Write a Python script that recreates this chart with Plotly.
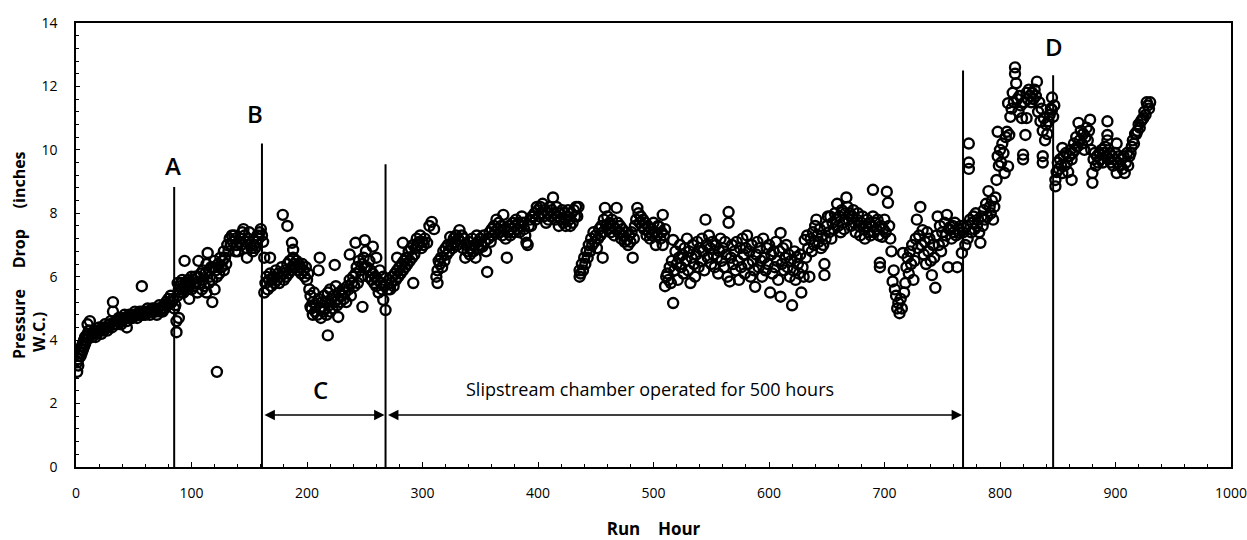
import plotly.graph_objects as go

# ---------------- data (run hour, pressure drop) ----------------
seg_start = [(1,3.0),(1,3.3),(2,3.4),(2,3.2),(3,3.5),(3,3.6),(4,3.7),(4,3.5),(5,3.8),(5,3.6),(6,3.9),(6,3.7),
 (7,4.0),(7,3.8),(8,4.1),(8,3.9),(9,4.1),(9,4.0),(10,4.2),(10,4.5),(11,4.3),(11,4.1),(12,4.6),(12,4.3),(13,4.2),
 (14,4.1),(15,4.2),(16,4.3),(17,4.1),(18,4.2),(19,4.3),(20,4.4),(21,4.3),(22,4.2),(23,4.4),(24,4.3),(25,4.5),
 (26,4.4),(27,4.3),(28,4.4),(29,4.5),(30,4.6),(31,4.4),(32,5.2),(32,4.9),(33,4.5),(34,4.6),(35,4.5),(36,4.6),
 (37,4.7),(38,4.6),(39,4.5),(40,4.6),(41,4.7),(42,4.8),(43,4.7),(44,4.6),(44,4.4),(45,4.7),(46,4.8),(47,4.7),
 (48,4.8),(49,4.7),(50,4.8),(51,4.9),(52,4.8),(53,4.7),(54,4.8),(55,4.9),(56,4.8),(57,4.9),(57,5.7),(58,4.8),
 (59,4.9),(60,4.8),(61,4.9),(62,5.0),(63,4.9),(64,4.8),(65,4.9),(66,5.0),(67,4.9),(68,5.0),(69,4.9),(70,4.8),
 (71,5.0),(72,5.1),(73,4.9),(74,5.0),(75,4.9),(76,5.1),(77,5.0),(78,5.2),(79,5.1),(80,5.3),(81,5.2),(82,5.4),
 (83,5.2),(84,5.3),(85,5.0),(86,5.1),(87,4.25),(87,4.6)]

seg_a_b = [(88,5.4),(88,5.8),(89,5.6),(89,4.7),(90,5.5),(90,5.7),(91,5.8),(92,5.6),(92,5.9),(93,5.5),(94,5.7),
 (94,6.5),(95,5.8),(96,5.6),(97,5.9),(98,5.7),(98,5.3),(99,5.8),(100,6.0),(100,5.6),(101,5.9),(102,5.7),(103,6.0),
 (104,5.8),(105,5.5),(106,6.5),(106,6.0),(107,5.8),(108,6.1),(109,5.6),(110,5.9),(110,6.2),(111,5.7),(112,6.1),
 (113,6.4),(113,5.5),(114,6.75),(115,6.2),(115,5.8),(116,6.0),(117,6.3),(118,5.9),(118,5.2),(119,6.3),(120,6.5),
 (120,5.6),(121,6.2),(122,6.0),(122,3.0),(123,6.4),(124,6.1),(125,6.6),(126,6.3),(127,6.5),(128,6.8),(128,6.2),
 (129,6.6),(130,6.4),(131,7.0),(132,6.8),(133,7.2),(134,7.0),(135,7.3),(136,7.1),(137,7.3),(138,6.8),(138,7.2),
 (139,7.0),(140,6.8),(141,7.1),(142,7.2),(143,7.0),(144,7.4),(145,7.5),(146,7.3),(147,7.1),(148,6.6),(148,6.9),
 (149,7.2),(150,7.4),(151,7.0),(152,6.9),(153,6.8),(154,7.0),(155,6.9),(156,7.1),(157,7.3),(158,7.2),(159,7.4),
 (160,7.5),(161,7.3),(162,7.1)]

seg_b_c = [(163,6.6),(163,5.5),(164,5.8),(165,6.0),(166,5.6),(167,5.9),(168,6.1),(168,6.6),(169,5.7),(170,5.9),
 (171,6.0),(172,5.8),(173,6.2),(174,5.9),(175,6.1),(176,5.8),(177,6.0),(178,6.3),(179,7.95),(179,6.1),(180,5.9),
 (181,6.2),(182,6.0),(183,7.6),(183,6.4),(184,6.1),(185,6.5),(186,6.2),(187,7.07),(187,6.3),(188,6.85),(188,6.6),
 (189,6.4),(190,6.3),(191,6.5),(192,6.2),(193,6.4),(194,6.3),(195,6.1),(196,6.4),(197,6.2),(198,6.0),(199,6.3),
 (200,5.9),(201,6.1),(202,5.6),(203,5.05),(203,5.4),(204,5.0),(205,4.8),(205,5.2),(206,5.5),(207,4.9),(208,5.1),
 (209,4.8),(210,5.3),(210,6.2),(211,6.6),(211,5.0),(212,4.7),(213,5.2),(214,4.9),(215,5.4),(215,5.0),(216,5.2),
 (217,4.8),(218,4.15),(218,5.5),(219,5.1),(220,5.6),(220,4.9),(221,5.3),(222,5.0),(223,5.4),(224,6.37),(224,5.2),
 (225,5.7),(226,5.1),(227,4.73),(227,5.3),(228,5.5),(229,5.2),(230,5.4),(231,5.6),(232,5.3),(233,5.5),(234,5.2),
 (235,5.7),(236,5.6),(237,6.7),(237,5.9),(238,5.4),(239,5.8),(240,6.0),(241,5.7),(242,7.07),(242,6.1),(243,6.3),
 (244,5.8),(245,6.5),(246,6.2),(247,6.0),(248,5.05),(248,6.4),(249,6.6),(250,7.15),(250,6.3),(251,6.8),(252,6.3),
 (253,6.0),(254,6.5),(255,6.2),(256,5.9),(257,6.95),(257,6.1),(258,5.8),(259,6.0),(260,6.6),(260,5.7),(261,5.9),
 (262,5.5),(263,6.2),(264,5.8),(265,5.6),(266,5.27),(266,6.0),(267,5.7),(268,4.95)]

seg_slip1 = [(270,5.6),(271,5.9),(272,5.6),(273,5.8),(274,6.0),(275,5.7),(276,6.1),(277,5.9),(278,6.6),(278,6.2),
 (279,6.0),(280,6.3),(281,6.1),(282,6.4),(283,7.07),(283,6.2),(284,6.5),(285,6.3),(286,6.6),(287,6.4),(288,6.8),
 (289,6.5),(290,6.9),(291,6.6),(292,5.8),(292,7.0),(293,6.7),(294,6.9),(295,7.2),(296,7.0),(297,7.1),(298,7.3),
 (299,6.9),(300,7.1),(301,7.0),(302,7.2),(304,7.07),(306,7.6),(308,7.73),(310,7.5),(312,6.0),(313,5.8),(313,6.2),
 (314,6.5),(315,6.4),(316,6.6),(317,6.3),(318,6.8),(319,6.5),(320,6.9),(321,6.7),(322,7.0),(323,6.8),(324,7.25),
 (325,7.0),(326,6.9),(327,7.2),(328,7.1),(329,7.3),(330,7.0),(331,7.2),(332,7.47),(333,7.1),(334,7.3),(335,6.9),
 (336,7.2),(337,6.6),(338,7.0),(339,6.8),(340,7.1),(341,6.7),(342,6.9),(343,7.2),(344,6.8),(345,7.0),(346,6.6),
 (347,7.3),(348,7.1),(349,6.9),(350,7.2),(351,7.0),(352,6.95),(353,7.3),(354,7.1),(355,6.8),(356,6.15),(357,7.2),
 (358,7.4),(359,7.1),(360,7.5),(361,7.3),(362,7.6),(363,7.4),(364,7.8),(365,7.5),(366,7.7),(367,7.4),(368,7.6),
 (369,7.3),(370,7.95),(371,7.5),(372,7.2),(373,6.6),(374,7.4),(375,7.6),(376,7.3),(377,7.5),(378,7.7),(379,7.4),
 (380,7.6),(381,7.8),(382,7.5),(383,7.7),(384,7.4),(385,7.6),(386,7.9),(387,7.7),(388,7.5),(389,7.3),(390,7.07),
 (391,7.0),(392,7.6),(393,7.8),(394,7.6),(395,7.9),(396,7.9),(397,8.0),(398,7.8),(399,8.2),(400,8.1),(401,7.9),
 (402,8.2),(403,8.0),(404,8.3),(405,7.9),(406,8.1),(407,7.7),(408,8.0),(409,7.8),(410,8.2),(411,7.9),(412,8.1),
 (413,8.5),(414,8.0),(415,7.8),(416,8.2),(417,7.9),(418,7.6),(419,8.0),(420,7.8),(421,8.1),(422,7.7),(423,8.0),
 (424,7.6),(425,7.9),(426,8.1),(427,7.8),(428,7.6),(429,8.0),(430,7.7),(431,8.1),(432,7.9),(433,8.2),(434,7.9),
 (435,8.2)]

seg_slip2 = [(436,6.0),(436,6.2),(437,6.1),(438,6.4),(439,6.2),(440,6.6),(441,6.4),(442,6.8),(443,6.6),(444,7.0),
 (445,6.8),(446,7.2),(447,7.0),(448,7.4),(449,7.1),(450,7.3),(451,6.9),(452,7.2),(453,7.5),(454,7.3),(455,7.6),
 (456,6.6),(456,7.4),(457,7.8),(458,8.17),(459,7.6),(460,7.9),(461,7.5),(462,7.7),(463,7.4),(464,7.8),(465,7.6),
 (466,7.3),(467,7.5),(468,8.17),(469,7.7),(470,7.4),(471,7.6),(472,7.2),(473,7.5),(474,7.3),(475,7.1),(476,7.4),
 (477,7.16),(478,7.0),(479,7.3),(480,7.1),(481,7.4),(482,6.6),(483,7.2),(484,7.6),(485,7.8),(486,8.17),(487,8.0),
 (488,7.7),(489,7.9),(490,7.6),(491,7.8),(492,7.5),(493,7.7),(494,7.3),(495,7.6),(496,7.4),(497,7.2),(498,7.5),
 (499,7.3),(500,7.7),(501,7.4),(502,7.0),(503,7.3),(504,7.6),(505,7.57),(506,7.2),(507,7.4),(508,7.95),(508,7.0),
 (509,7.3),(510,7.5)]

seg_slip3 = [(510,5.7),(511,6.0),(512,6.1),(513,5.9),(514,6.3),(515,5.8),(516,6.5),(517,5.17),(517,7.16),(518,6.2),
 (519,6.8),(520,6.4),(521,5.9),(522,6.6),(523,7.0),(524,6.3),(525,6.7),(526,6.1),(527,6.9),(528,6.5),(529,7.2),
 (530,6.2),(531,6.8),(532,5.8),(533,6.6),(534,7.0),(535,6.4),(536,6.0),(537,6.7),(538,7.1),(539,6.3),(540,6.9),
 (541,6.5),(542,7.2),(543,6.8),(544,6.2),(545,7.8),(546,7.0),(547,6.6),(548,7.3),(549,6.9),(550,6.4),(551,7.1),
 (552,6.7),(553,6.3),(554,7.0),(555,6.6),(556,6.1),(557,6.8),(558,7.2),(559,6.5),(560,6.9),(561,6.3),(562,7.1),
 (563,6.7),(564,6.0),(565,8.04),(565,7.7),(566,5.85),(567,6.6),(568,7.0),(569,6.4),(570,6.8),(571,6.2),(572,7.1),
 (573,6.5),(574,5.9),(575,6.9),(576,6.3),(577,7.2),(578,6.7),(579,6.1),(580,6.9),(581,7.3),(582,6.4),(583,6.8),
 (584,6.0),(585,7.0),(586,6.5),(587,6.2),(588,5.68),(589,6.7),(590,7.1),(591,6.3),(592,6.9),(593,6.5),(594,6.0),
 (595,7.2),(596,6.6),(597,6.2),(598,6.9),(599,6.4),(600,7.0),(601,5.5),(602,6.7),(603,6.1),(604,6.8),(605,6.3),
 (606,7.1),(607,6.5),(608,5.9),(609,6.8),(610,7.38),(610,5.37),(611,6.4),(612,6.9),(613,6.2),(614,6.6),(615,7.0),
 (616,6.3),(617,6.7),(618,6.0),(619,6.5),(620,5.1),(621,6.2),(622,6.8),(623,5.9),(624,6.62),(625,6.4),(626,6.1),
 (627,6.7),(628,5.5),(629,6.3),(630,6.0),(631,7.16),(632,6.6),(633,7.3),(634,6.9),(635,6.0),(636,7.2),(637,6.8),
 (638,7.4),(639,7.0),(640,7.6),(641,7.8),(642,7.3),(643,7.1),(644,7.5),(645,6.9),(646,7.3),(647,7.0),(648,6.05),
 (648,6.4),(649,7.2),(650,7.6),(651,7.9),(652,7.4),(653,7.9),(654,7.2),(655,7.7),(656,7.5),(657,8.0),(658,7.8),
 (659,8.3),(660,7.6),(661,7.9),(662,7.4),(663,8.1),(664,7.7),(665,7.5),(666,8.0),(667,8.5),(668,8.2),(669,7.8),
 (670,8.0),(671,7.6),(672,7.9),(673,8.1),(674,7.7),(675,7.4),(676,7.8),(677,8.0),(678,7.6),(679,7.3),(680,7.7),
 (681,7.9),(682,7.5),(683,7.2),(684,7.6),(685,7.8),(686,7.4),(687,7.7),(688,7.3),(689,7.6),(690,8.74),(690,7.9),
 (691,7.4),(692,7.7),(693,7.5),(694,7.8),(695,7.3),(696,6.44),(696,6.3),(697,7.6),(698,7.26),(699,7.5),(700,7.8),
 (701,7.4),(702,8.68),(703,8.33),(704,7.6),(705,7.2),(706,6.8),(707,5.85),(708,6.2),(709,5.6),(710,5.4),(711,5.0),
 (712,5.17),(713,4.85),(714,5.3),(715,5.0),(716,6.75),(717,5.5),(718,5.8),(719,6.3),(720,6.6),(721,6.1),(722,6.8),
 (723,6.4),(724,7.0),(725,5.9),(726,6.5),(727,7.2),(728,7.8),(729,6.9),(730,7.3),(731,8.2),(732,7.0),(733,7.47),
 (734,6.7),(735,7.1),(736,6.4),(737,7.4),(738,6.8),(739,7.2),(740,6.5),(741,6.05),(742,7.0),(743,6.6),(744,5.65),
 (745,7.3),(746,7.9),(747,7.0),(748,7.6),(749,6.8),(750,7.4),(751,7.1),(752,7.7),(753,7.3),(754,7.95),(755,6.3),
 (756,7.5),(757,7.57),(758,7.2),(759,7.6),(760,7.4),(761,7.7),(762,7.3),(763,6.3),(764,7.5),(765,7.38),(766,7.6),
 (767,6.75),(768,7.4)]

seg_after = [(770,7.0),(771,7.6),(772,7.2),(773,10.2),(773,9.6),(773,9.4),(774,7.8),(775,7.4),(776,7.7),(777,7.9),
 (778,7.5),(779,8.0),(780,7.6),(781,7.8),(782,7.4),(783,7.07),(784,7.9),(785,7.6),(786,8.1),(787,7.8),(788,8.3),
 (789,7.9),(790,8.7),(791,8.2),(792,8.0),(793,8.4),(794,7.8),(795,8.2),(796,8.5),(797,9.05),(798,9.8),(798,10.57),
 (799,9.5),(800,10.0),(801,9.6),(802,10.2),(803,9.9),(804,9.27),(805,10.4),(806,10.57),(807,9.48),(807,11.47),
 (808,10.47),(809,11.04),(810,11.3),(811,11.8),(812,11.5),(813,12.6),(813,12.4),(814,12.1),(815,11.6),(816,11.2),
 (817,11.7),(818,11.4),(819,11.0),(820,9.7),(820,9.85),(821,11.5),(822,10.47),(823,11.0),(823,11.8),(824,11.6),
 (825,11.9),(826,11.7),(827,11.5),(828,11.8),(829,11.6),(830,11.9),(831,11.7),(832,12.15),(833,11.2),(834,11.5),
 (835,10.9),(836,11.3),(837,10.6),(837,9.8),(837,9.6),(838,11.0),(839,10.3),(840,10.8),(841,10.5),(842,10.9),
 (843,11.1),(844,11.3),(845,11.65),(845,11.26),(846,11.04),(847,11.4)]

seg_d = [(848,8.85),(848,9.05),(849,9.3),(850,9.6),(851,9.4),(852,9.7),(853,9.5),(854,10.06),(854,9.27),(855,9.8),
 (856,9.5),(857,9.9),(858,9.6),(859,9.3),(860,9.8),(861,10.0),(862,9.05),(862,9.7),(863,9.9),(864,10.2),(865,10.0),
 (866,10.4),(867,10.1),(868,10.85),(869,10.3),(870,10.6),(871,10.2),(872,10.5),(873,10.0),(874,10.4),(875,10.7),
 (876,10.3),(877,10.6),(878,10.95),(879,10.0),(880,9.27),(880,8.96),(881,9.7),(882,9.9),(883,9.5),(884,9.8),
 (885,9.6),(886,9.9),(887,9.7),(888,10.0),(889,9.6),(890,9.9),(891,10.1),(892,9.8),(893,10.9),(893,10.47),
 (893,10.3),(894,9.7),(895,9.9),(896,9.6),(897,9.8),(898,9.5),(899,9.7),(900,9.9),(901,10.2),(901,9.27),(902,9.6),
 (903,9.8),(904,9.5),(905,9.7),(906,9.4),(907,9.8),(908,9.27),(909,9.6),(910,9.9),(911,9.5),(912,9.8),(913,9.9),
 (914,10.1),(915,10.3),(916,10.2),(917,10.5),(918,10.5),(919,10.6),(920,10.8),(921,10.7),(922,10.9),(923,10.95),
 (924,11.0),(925,11.2),(926,11.1),(927,11.5),(928,11.4),(929,11.3),(930,11.5)]

# event markers
event_hours = [85, 161, 268, 768, 846]
event_tops = [8.83, 10.2, 9.55, 12.5, 12.35]
event_labels = ["A", "B", "", "", "D"]
label_pos = [(84, 9.5), (155, 11.15), (None, None), (None, None), (847, 13.25)]
arrow_y = 1.64
c_label = ("C", 212, 2.45)
slip_label = ("Slipstream chamber operated for 500 hours", 497, 2.45)

x_ticks = [0, 100, 200, 300, 400, 500, 600, 700, 800, 900, 1000]
y_ticks = [0, 2, 4, 6, 8, 10, 12, 14]

# ---------------- figure ----------------
all_pts = seg_start + seg_a_b + seg_b_c + seg_slip1 + seg_slip2 + seg_slip3 + seg_after + seg_d
hours = [p[0] for p in all_pts]
pressure = [p[1] for p in all_pts]

fig = go.Figure()
fig.add_trace(go.Scatter(
    x=hours, y=pressure, mode="markers",
    marker=dict(symbol="circle-open", size=10, color="black", line=dict(width=2.4, color="black")),
    showlegend=False, hoverinfo="x+y"))

shapes = []
for h, top in zip(event_hours, event_tops):
    shapes.append(dict(type="line", xref="x", yref="y", x0=h, x1=h, y0=0, y1=top,
                       line=dict(color="black", width=2)))

annotations = []
lab_font = dict(family="Open Sans, Arial", size=24, color="black", weight=600)
for lab, (lx, ly) in zip(event_labels, label_pos):
    if lab:
        annotations.append(dict(x=lx, y=ly, xref="x", yref="y", text=lab, showarrow=False,
                                font=lab_font))
annotations.append(dict(x=c_label[1], y=c_label[2], xref="x", yref="y", text=c_label[0],
                        showarrow=False, font=lab_font))
annotations.append(dict(x=slip_label[1], y=slip_label[2], xref="x", yref="y", text=slip_label[0],
                        showarrow=False, font=dict(family="Open Sans, Arial", size=18, color="black")))
# double headed arrows
for x0, x1 in [(event_hours[1], event_hours[2]), (event_hours[2], event_hours[3])]:
    annotations.append(dict(x=x1, y=arrow_y, ax=x0, ay=arrow_y, xref="x", yref="y",
                            axref="x", ayref="y", text="", showarrow=True,
                            arrowhead=2, arrowside="end+start", arrowsize=1.3,
                            arrowwidth=1.6, arrowcolor="black", standoff=1, startstandoff=1))

# y-axis title (two lines, rotated)
L, R, T, B = 76, 1231, 23, 467
def px_x(p): return (p - L) / (R - L)
def px_y(p): return (B - p) / (B - T)
title_font = dict(family="Open Sans, Arial", size=16, color="black")
annotations.append(dict(x=px_x(19), y=px_y(361), xref="paper", yref="paper",
                        text="<b>Pressure&nbsp;&nbsp;&nbsp;&nbsp;&nbsp;Drop&nbsp;&nbsp;&nbsp;&nbsp;&nbsp;(inches</b>",
                        textangle=-90, showarrow=False, xanchor="center", yanchor="bottom",
                        font=title_font))
annotations.append(dict(x=px_x(39), y=px_y(354), xref="paper", yref="paper",
                        text="<b>W.C.)</b>", textangle=-90, showarrow=False,
                        xanchor="center", yanchor="bottom", font=title_font))

fig.update_layout(
    width=1247, height=540,
    margin=dict(l=L, r=1247 - R, t=T, b=540 - B, autoexpand=False),
    plot_bgcolor="white", paper_bgcolor="white",
    shapes=shapes, annotations=annotations,
    xaxis=dict(range=[0, 1000], tickvals=x_ticks, ticktext=[str(v) for v in x_ticks],
               automargin=False,
               showgrid=False, zeroline=False, showline=True, linecolor="black", linewidth=1.5,
               mirror=True, ticks="inside", ticklen=5, tickcolor="black",
               minor=dict(ticks="inside", dtick=20, ticklen=3, tickcolor="black"),
               tickfont=dict(family="Open Sans, Arial", size=14, color="black"),
               ticklabelstandoff=12, ticklabeloverflow="allow",
               title=dict(text="<b>Run&nbsp;&nbsp;&nbsp;&nbsp;Hour</b>", standoff=24,
                          font=dict(family="Open Sans, Arial", size=17, color="black"))),
    yaxis=dict(range=[0, 14], tickvals=y_ticks, ticktext=[str(v) for v in y_ticks],
               automargin=False,
               showgrid=False, zeroline=False, showline=True, linecolor="black", linewidth=1.5,
               mirror=True, ticks="inside", ticklen=4, tickcolor="black",
               minor=dict(ticks="inside", dtick=0.4, ticklen=3, tickcolor="black"),
               tickfont=dict(family="Open Sans, Arial", size=14, color="black"),
               ticklabelstandoff=14, ticklabeloverflow="allow"),
)

fig.write_html("out.html")
